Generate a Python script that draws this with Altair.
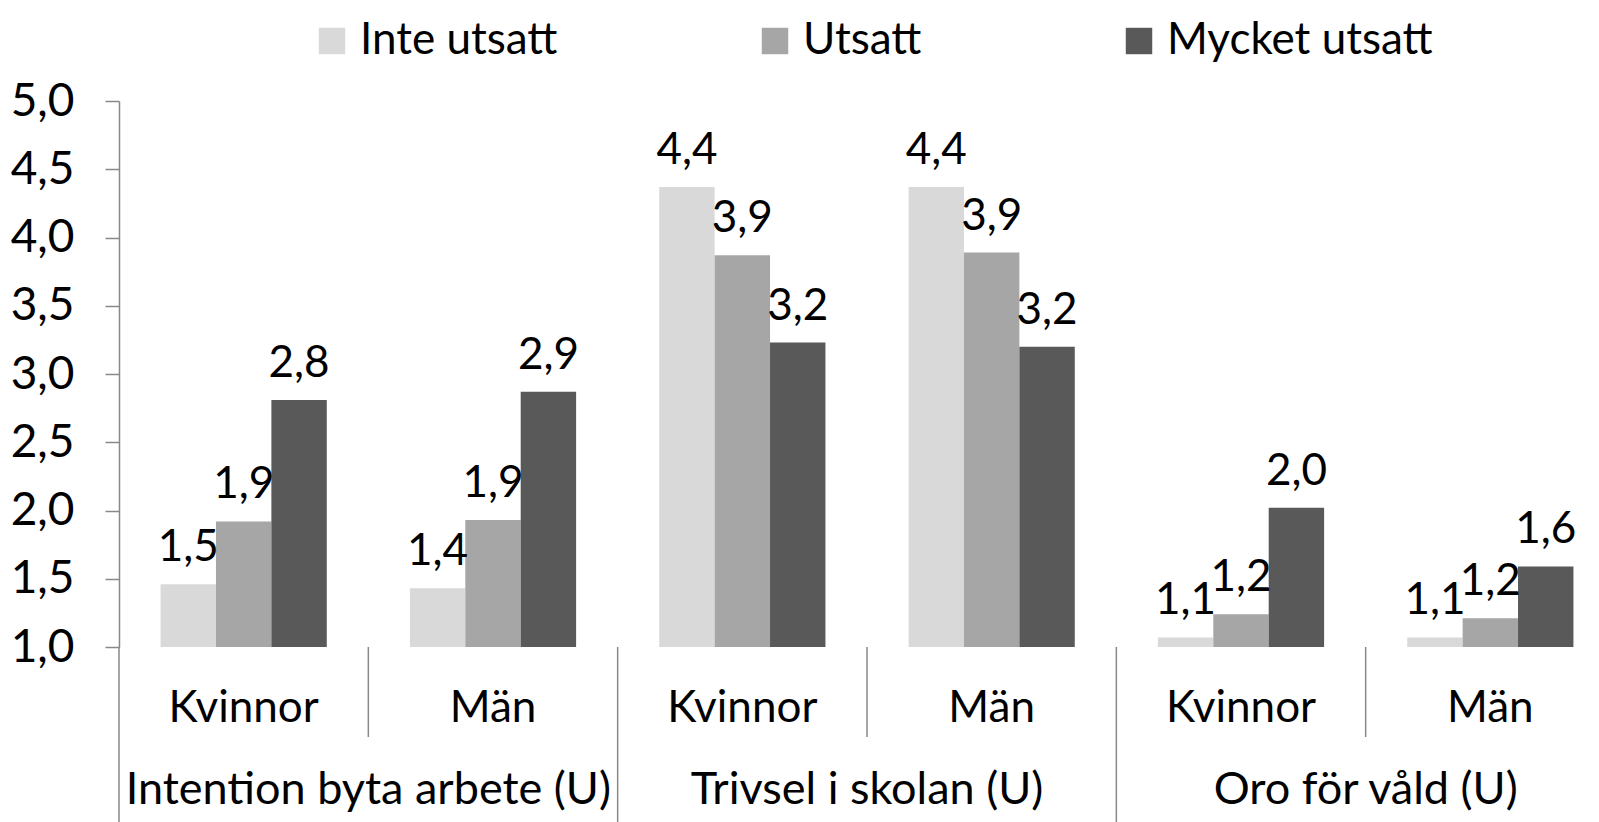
import altair as alt
import pandas as pd

# ---- data ----
groups = ["Intention byta arbete (U)", "Trivsel i skolan (U)", "Oro för våld (U)"]
sexes = ["Kvinnor", "Män"]
series = ["Inte utsatt", "Utsatt", "Mycket utsatt"]
inte_utsatt = [1.46, 1.43, 4.37, 4.37, 1.07, 1.07]
utsatt = [1.92, 1.93, 3.87, 3.89, 1.24, 1.21]
mycket_utsatt = [2.81, 2.87, 3.23, 3.20, 2.02, 1.59]
y_ticks = [1.0, 1.5, 2.0, 2.5, 3.0, 3.5, 4.0, 4.5, 5.0]
colors = ["#d9d9d9", "#a6a6a6", "#595959"]

cells = [f"{g} | {s}" for g in groups for s in sexes]
rows = []
for name, vals in zip(series, [inte_utsatt, utsatt, mycket_utsatt]):
    for c, v in zip(cells, vals):
        rows.append({"cell": c, "serie": name, "value": v})
df = pd.DataFrame(rows)

sub_df = pd.DataFrame({"cell": cells, "sex": [s for g in groups for s in sexes]})
grp_df = pd.DataFrame({"cell": cells[0::2], "group": groups})
short_div = pd.DataFrame({"cell": cells[1::2]})
long_div = pd.DataFrame({"cell": cells[0::2]})

W, H = 1472, 546
FONT = "Lato"
FS = 44
AX = "#888888"

xscale = alt.Scale(domain=cells, range=[0, 1496], paddingInner=0, paddingOuter=0)
yscale = alt.Scale(domain=[1, 5], zero=False, nice=False)

x_main = alt.X("cell:N", scale=xscale, sort=cells,
               axis=alt.Axis(labels=False, ticks=False, title=None,
                             domainColor=AX, domainWidth=1.5))
x_none = lambda **kw: alt.X("cell:N", scale=xscale, sort=cells, axis=None, **kw)
xoff = alt.XOffset("serie:N", sort=series,
                   scale=alt.Scale(domain=series, paddingOuter=0.75, paddingInner=0))

bars = alt.Chart(df).mark_bar().encode(
    x=x_main,
    xOffset=xoff,
    y=alt.Y("value:Q", scale=yscale,
            axis=alt.Axis(values=y_ticks, grid=False, title=None,
                          labelExpr="replace(format(datum.value, '.1f'), '.', ',')",
                          labelFont=FONT, labelFontSize=46, labelColor="black",
                          labelPadding=31, tickSize=14, tickColor=AX, tickWidth=1.5,
                          domainColor=AX, domainWidth=1.5)),
    y2=alt.datum(1.0),
    color=alt.Color("serie:N", sort=series,
                    scale=alt.Scale(domain=series, range=colors),
                    legend=alt.Legend(orient="none", legendX=191, legendY=-82,
                                      direction="horizontal", title=None,
                                      symbolType="square", symbolSize=700,
                                      symbolStrokeWidth=0, labelFont=FONT,
                                      labelFontSize=FS, labelColor="black",
                                      labelLimit=1000, padding=0,
                                      columnPadding=195, labelOffset=6)),
)

labels = alt.Chart(df).transform_calculate(
    label="replace(format(datum.value, '.1f'), '.', ',')"
).mark_text(font=FONT, fontSize=FS, color="black", baseline="alphabetic", dy=-23).encode(
    x=x_none(),
    xOffset=xoff,
    y=alt.Y("value:Q", scale=yscale),
    text="label:N",
)

sub_labels = alt.Chart(sub_df).mark_text(font=FONT, fontSize=FS, color="black",
                                         baseline="middle").encode(
    x=x_none(),
    y=alt.value(H + 62),
    text="sex:N",
)

grp_labels = alt.Chart(grp_df).mark_text(font=FONT, fontSize=FS + 1, color="black",
                                         baseline="alphabetic").encode(
    x=x_none(bandPosition=1),
    y=alt.value(H + 157),
    text="group:N",
)

short_rules = alt.Chart(short_div).mark_rule(color=AX, strokeWidth=1.5).encode(
    x=x_none(bandPosition=0),
    y=alt.value(H),
    y2=alt.value(H + 90),
)

long_rules = alt.Chart(long_div).mark_rule(color=AX, strokeWidth=1.5).encode(
    x=x_none(bandPosition=0),
    y=alt.value(H),
    y2=alt.value(H + 180),
)

chart = alt.layer(bars, labels, sub_labels, grp_labels, short_rules, long_rules).properties(
    width=W, height=H,
    autosize=alt.AutoSizeParams(type="none"),
    padding={"left": 111, "top": 93, "right": 0, "bottom": 175},
).configure_view(stroke=None)

chart.save("out.html", embed_options={"renderer": "svg", "actions": False})
